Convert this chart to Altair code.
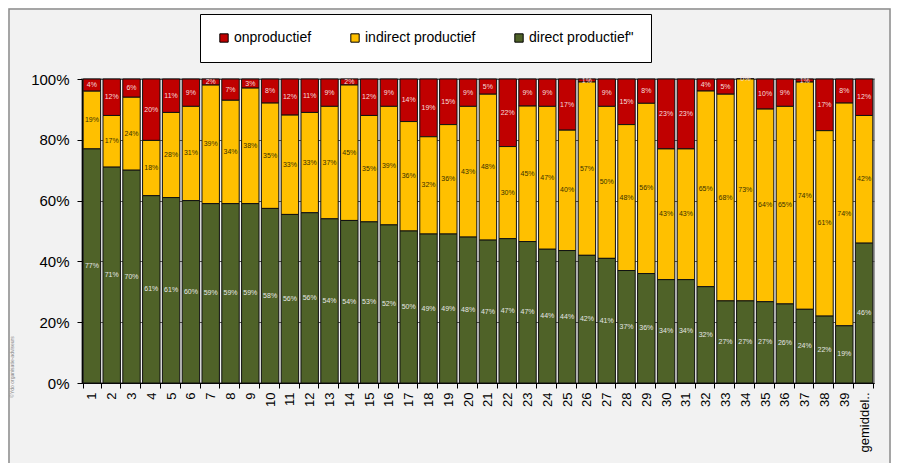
import altair as alt
import pandas as pd

categories = [str(i) for i in range(1, 40)] + ["gemiddel.."]
direct = [77, 71, 70, 61, 61, 60, 59, 59, 59, 58, 56, 56, 54, 54, 53, 52, 50, 49, 49, 48,
          47, 47, 47, 44, 44, 42, 41, 37, 36, 34, 34, 32, 27, 27, 27, 26, 24, 22, 19, 46]
indirect = [19, 17, 24, 18, 28, 31, 39, 34, 38, 35, 33, 33, 37, 45, 35, 39, 36, 32, 36, 43,
            48, 30, 45, 47, 40, 57, 50, 48, 56, 43, 43, 65, 68, 73, 64, 65, 74, 61, 74, 42]
onprod = [4, 12, 6, 20, 11, 9, 2, 7, 3, 8, 12, 11, 9, 2, 12, 9, 14, 19, 15, 9,
          5, 22, 9, 9, 17, 1, 9, 15, 8, 23, 23, 4, 5, 0, 10, 9, 1, 17, 8, 12]
series_names = ["onproductief", "indirect productief", "direct productief\""]
series_colors = ["#c00000", "#ffc000", "#4f6228"]
label_colors = ["#f4dede", "#3a3000", "#e6e6e6"]

rows = []
for i, c in enumerate(categories):
    for k, (name, vals) in enumerate(zip(series_names, [onprod, indirect, direct])):
        rows.append({"cat": c, "series": name, "value": vals[i],
                     "order": 2 - k, "label": f"{vals[i]}%"})
df = pd.DataFrame(rows)

FONT = "Liberation Sans"

base = alt.Chart(df).transform_stack(
    stack="value", groupby=["cat"], sort=[alt.SortField("order", "ascending")],
    offset="normalize", as_=["y0", "y1"]
).transform_calculate(mid="(datum.y0 + datum.y1) / 2")

xenc = alt.X("cat:N", sort=categories, title=None,
             scale=alt.Scale(paddingInner=0.12, paddingOuter=0.06),
             axis=alt.Axis(labelAngle=-90, labelFont=FONT, labelFontSize=13,
                           labelColor="#000", tickBand="extent", tickSize=5,
                           tickColor="#000", domainColor="#000", labelPadding=4,
                           labelBaseline="middle", labelAlign="right"))

bars = base.mark_bar(stroke="#111", strokeWidth=1).encode(
    x=xenc,
    y=alt.Y("y0:Q", title=None, scale=alt.Scale(domain=[0, 1]),
            axis=alt.Axis(format=".0%", values=[0, 0.2, 0.4, 0.6, 0.8, 1.0],
                          labelFont=FONT, labelFontSize=15, labelColor="#000",
                          tickSize=5, tickColor="#000", domainColor="#000",
                          labelPadding=8, gridColor="#555", gridWidth=1)),
    y2="y1:Q",
    color=alt.Color("series:N", sort=series_names,
                    scale=alt.Scale(domain=series_names, range=series_colors),
                    legend=alt.Legend(title=None, orient="none", direction="horizontal",
                                      legendX=118, legendY=-65, columns=3,
                                      fillColor="white", strokeColor="#000",
                                      padding=17, columnPadding=36,
                                      symbolType="square", symbolSize=70,
                                      symbolStrokeColor="#000", symbolStrokeWidth=1,
                                      labelFont=FONT, labelFontSize=14,
                                      labelColor="#000", labelOffset=3)),
)

labels = base.mark_text(font=FONT, fontSize=7).encode(
    x=alt.X("cat:N", sort=categories),
    y=alt.Y("mid:Q"),
    text="label:N",
    color=alt.Color("series:N", scale=alt.Scale(domain=series_names, range=label_colors),
                    legend=None),
)

copyright_txt = alt.Chart(pd.DataFrame({"t": ["©Ydo organisatie-adviseurs"]})).mark_text(
    font=FONT, fontSize=5, angle=270, color="#888"
).encode(text="t:N", x=alt.value(-70), y=alt.value(288))

frame = alt.Chart(pd.DataFrame({"f": [0]})).mark_rect(
    filled=False, stroke="#8c8c8c", strokeWidth=1.5
).encode(x=alt.value(-73), x2=alt.value(808), y=alt.value(-70), y2=alt.value(400))

chart = alt.layer(frame, bars, labels, copyright_txt).resolve_scale(color="independent").properties(
    width=792, height=304,
    autosize=alt.AutoSizeParams(type="none"),
    padding={"left": 74, "top": 71, "right": 17, "bottom": 80},
    background="#f2f2f2",
).configure_view(stroke="#808080", strokeWidth=1.5, fill="#f2f2f2")

chart.save("out.html", embed_options={"renderer": "svg", "actions": False})
